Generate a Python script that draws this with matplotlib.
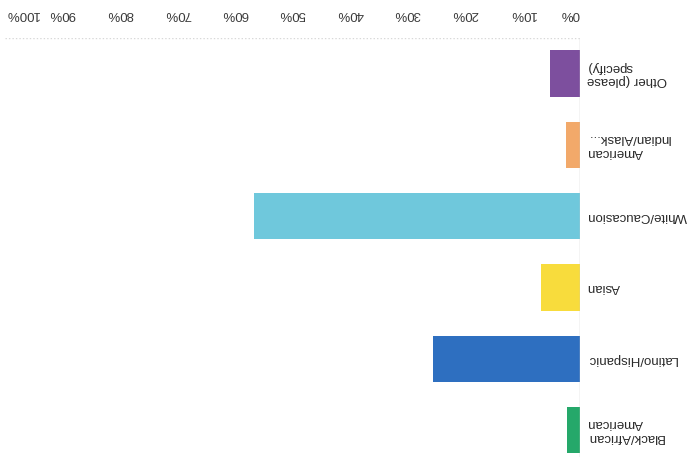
import matplotlib
matplotlib.use("Agg")
import matplotlib.pyplot as plt

categories = ["Black/African\nAmerican", "Latino/Hispanic", "Asian",
              "White/Caucasion", "American\nIndian/Alask...", "Other (please\nspecify)"]
values = [2.3, 25.6, 6.8, 56.7, 2.4, 5.2]
colors = ["#25a86a", "#2e6fc0", "#f8dc3c", "#6fc8dc", "#f2a96a", "#7d4f9e"]
tick_values = [0, 10, 20, 30, 40, 50, 60, 70, 80, 90, 100]
tick_labels = ["0%", "10%", "20%", "30%", "40%", "50%", "60%", "70%", "80%", "90%", "100%"]

W, H = 699, 457
fig = plt.figure(figsize=(W / 100, H / 100), dpi=100)
plt.rcParams["font.family"] = ["Liberation Sans", "DejaVu Sans"]

# page is printed upside down: 0% on the right, first category at the bottom
left_px, right_px = 5, 580
top_px, bottom_px = 37.8, 465.7
ax = fig.add_axes([left_px / W, 1 - bottom_px / H,
                   (right_px - left_px) / W, (bottom_px - top_px) / H])

ypos = list(range(len(categories)))
ax.barh(ypos, values, height=0.65, color=colors, edgecolor="none")

ax.set_xlim(100, 0)
ax.set_ylim(-0.5, len(categories) - 0.5)

for s in ax.spines.values():
    s.set_visible(False)
ax.axvline(0, color="#c8c8c8", lw=1.0)
ax.axhline(len(categories) - 0.5, color="#d8d8d8", lw=1.0, ls=(0, (1, 1.5)))

ax.xaxis.tick_top()
ax.set_xticks(tick_values)
ax.set_xticklabels(tick_labels, rotation=180, color="#3a3a3a", fontsize=9.5)
ax.tick_params(axis="x", length=0, pad=13)
# end labels are pulled inside the plot area
labs = ax.get_xticklabels()
labs[0].set_horizontalalignment("right")
labs[-1].set_horizontalalignment("left")

ax.yaxis.tick_right()
ax.set_yticks(ypos)
ax.set_yticklabels(categories, rotation=180, color="#2a2a2a", fontsize=9.5,
                   ha="left", va="center", multialignment="right")
ax.tick_params(axis="y", length=0, pad=5)

fig.savefig("out.png", dpi=100, facecolor="white")
